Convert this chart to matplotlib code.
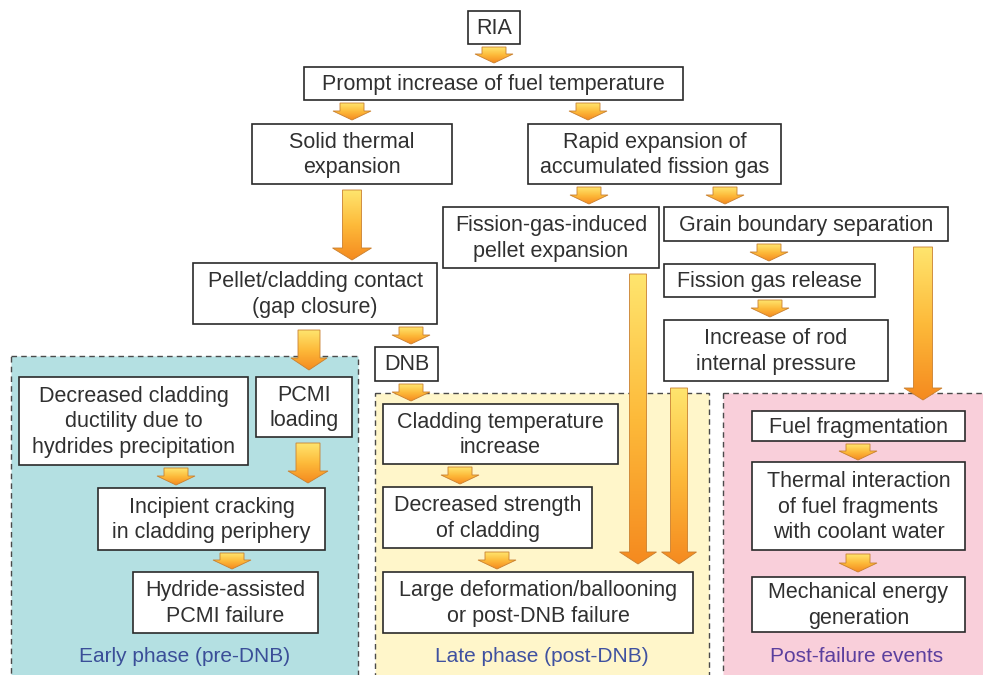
import numpy as np
import matplotlib
matplotlib.use("Agg")
import matplotlib.pyplot as plt
from matplotlib.patches import Rectangle, Polygon
from matplotlib.colors import LinearSegmentedColormap

# ---- content ----
box_labels = [
    "RIA",
    "Prompt increase of fuel temperature",
    "Solid thermal\nexpansion",
    "Rapid expansion of\naccumulated fission gas",
    "Fission-gas-induced\npellet expansion",
    "Grain boundary separation",
    "Fission gas release",
    "Increase of rod\ninternal pressure",
    "Pellet/cladding contact\n(gap closure)",
    "DNB",
    "Decreased cladding\nductility due to\nhydrides precipitation",
    "PCMI\nloading",
    "Incipient cracking\nin cladding periphery",
    "Hydride-assisted\nPCMI failure",
    "Cladding temperature\nincrease",
    "Decreased strength\nof cladding",
    "Large deformation/ballooning\nor post-DNB failure",
    "Fuel fragmentation",
    "Thermal interaction\nof fuel fragments\nwith coolant water",
    "Mechanical energy\ngeneration",
]
region_labels = ["Early phase (pre-DNB)", "Late phase (post-DNB)", "Post-failure events"]

# ---- layout (pixel coordinates: x0, y0, x1, y1) ----
box_layout = [
    (468, 11, 520, 44),
    (304, 67, 683, 100),
    (252, 124, 452, 184),
    (528, 124, 781, 184),
    (443, 207, 659, 268),
    (664, 207, 948, 241),
    (664, 264, 875, 297),
    (664, 320, 888, 381),
    (193, 263, 437, 324),
    (375, 347, 438, 381),
    (19, 377, 248, 465),
    (256, 377, 352, 437),
    (98, 488, 325, 550),
    (133, 572, 318, 633),
    (383, 404, 618, 464),
    (383, 487, 592, 548),
    (383, 572, 693, 633),
    (752, 411, 965, 441),
    (752, 462, 965, 550),
    (752, 577, 965, 632),
]
region_layout = [
    (11, 356, 358, 678),
    (375, 393, 709, 678),
    (723, 393, 990, 678),
]
region_colors = ["#B4E0E2", "#FFF6CA", "#F9CFDA"]
region_text_colors = ["#3A4E98", "#3F51A0", "#5B3F9E"]

# small arrows: (x_center, y_top, y_tip)
small_arrows = [
    (494, 47, 63), (352, 103, 120), (588, 103, 120), (589, 187, 204),
    (725, 187, 204), (769, 244, 261), (770, 300, 317), (411, 327, 344),
    (411, 384, 401), (176, 468, 485), (232, 553, 569), (460, 467, 484),
    (497, 552, 569), (858, 444, 460), (858, 554, 572),
]
# long arrows: (x_center, y_top, y_tip, shaft width, head width)
long_arrows = [
    (352, 190, 260, 19, 39), (309, 330, 370, 22, 36), (308, 443, 483, 24, 40),
    (638, 274, 564, 17, 37), (679, 388, 564, 17, 35), (923, 247, 400, 19, 38),
]

W, H = 983, 675
fig = plt.figure(figsize=(W / 100, H / 100), dpi=100)
ax = fig.add_axes([0, 0, 1, 1])
ax.set_xlim(0, W)
ax.set_ylim(H, 0)
ax.axis("off")

FONT = "Liberation Sans"
FS = 15.5

# regions
for (x0, y0, x1, y1), fc, tc, lab in zip(region_layout, region_colors, region_text_colors, region_labels):
    ax.add_patch(Rectangle((x0, y0), x1 - x0, y1 - y0, facecolor=fc, edgecolor="#4a4a4a",
                           lw=1.0, linestyle=(0, (4, 3)), zorder=1))
    ax.text((x0 + x1) / 2, 656, lab, ha="center", va="center", fontsize=15,
            family=FONT, color=tc, zorder=2)

# boxes
for (x0, y0, x1, y1), lab in zip(box_layout, box_labels):
    ax.add_patch(Rectangle((x0, y0), x1 - x0, y1 - y0, facecolor="white", edgecolor="#2a2a2a",
                           lw=1.2, zorder=3))
    ax.text((x0 + x1) / 2, (y0 + y1) / 2 + 1, lab, ha="center", va="center", fontsize=FS,
            family=FONT, color="#303030", linespacing=1.27, zorder=4)

cmap = LinearSegmentedColormap.from_list("arr", ["#FFE56E", "#FDBA3A", "#F58A1F"])
grad = np.linspace(0, 1, 256).reshape(-1, 1)


def draw_arrow(xc, y0, y1, sw, hw, hh):
    pts = [(xc - sw / 2, y0), (xc + sw / 2, y0), (xc + sw / 2, y1 - hh), (xc + hw / 2, y1 - hh),
           (xc, y1), (xc - hw / 2, y1 - hh), (xc - sw / 2, y1 - hh)]
    poly = Polygon(pts, closed=True, facecolor="none", edgecolor="#C98030", lw=0.6, zorder=6)
    ax.add_patch(poly)
    im = ax.imshow(grad, cmap=cmap, aspect="auto", extent=(xc - hw / 2, xc + hw / 2, y1, y0),
                   zorder=5, interpolation="bilinear")
    clip = Polygon(pts, closed=True, transform=ax.transData)
    im.set_clip_path(clip)


for xc, y0, y1 in small_arrows:
    draw_arrow(xc, y0, y1, 24, 38, 9)
for xc, y0, y1, sw, hw in long_arrows:
    draw_arrow(xc, y0, y1, sw, hw, 12)

ax.set_xlim(0, W)
ax.set_ylim(H, 0)
fig.savefig("out.png", dpi=100)
